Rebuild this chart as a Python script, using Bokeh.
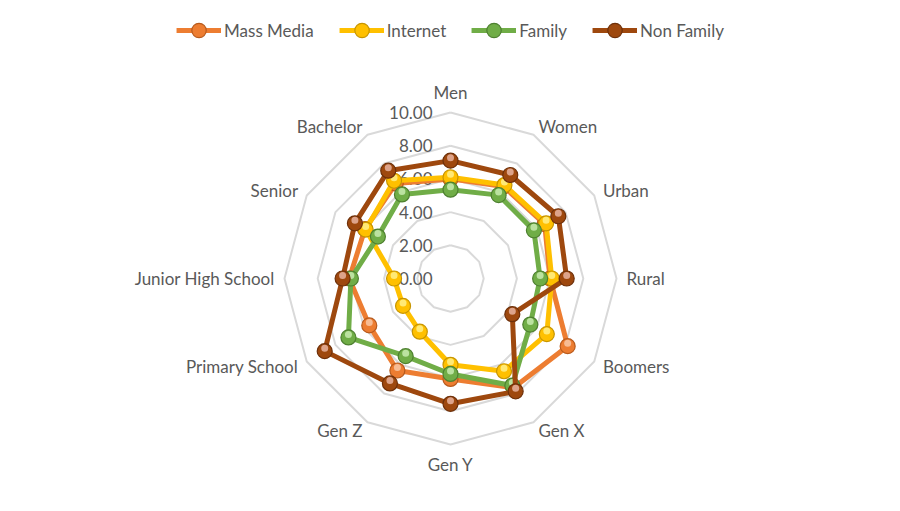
import numpy as np
from bokeh.plotting import figure
from bokeh.models import Legend, LegendItem
from bokeh.embed import file_html
from bokeh.resources import INLINE
from bokeh.core.properties import value

categories = ["Men", "Women", "Urban", "Rural", "Boomers", "Gen X", "Gen Y",
              "Gen Z", "Primary School", "Junior High School", "Senior", "Bachelor"]
mass_media = [6.0, 6.4, 6.55, 6.0, 8.15, 7.6, 6.05, 6.4, 5.65, 6.1, 5.95, 6.6]
internet   = [6.1, 6.5, 6.65, 6.1, 6.7, 6.45, 5.2, 3.7, 3.3, 3.4, 5.9, 6.8]
family     = [5.35, 5.8, 5.8, 5.4, 5.55, 7.45, 5.75, 5.4, 7.1, 6.0, 5.05, 5.85]
non_family = [7.1, 7.2, 7.5, 7.0, 4.3, 7.85, 7.55, 7.3, 8.75, 6.5, 6.65, 7.5]
series_names = ["Mass Media", "Internet", "Family", "Non Family"]
ring_values = [2, 4, 6, 8, 10]
tick_values = [0, 2, 4, 6, 8, 10]
tick_labels = ["0.00", "2.00", "4.00", "6.00", "8.00", "10.00"]

colors = ["#ED7D31", "#FFC000", "#70AD47", "#9E480E"]
dark = ["#B85A1C", "#C79500", "#4E8030", "#6E300A"]
light = ["#F8C7A4", "#FFF08A", "#C8EBB0", "#E8B4A0"]

W, H = 900, 511
cx, cy = 450, 278
ppu = 16.6
p = figure(width=W, height=H,
           x_range=(-cx / ppu, (W - cx) / ppu),
           y_range=(-(H - cy) / ppu, cy / ppu),
           output_backend="svg", toolbar_location=None,
           x_axis_location=None, y_axis_location=None, min_border=0)
p.grid.visible = False
p.outline_line_color = None
p.background_fill_color = "white"

n = len(categories)
theta = np.arange(n) * 2 * np.pi / n
s, c = np.sin(theta), np.cos(theta)

# rings
ring_xs = [list(np.append(r * s, r * s[0])) for r in ring_values]
ring_ys = [list(np.append(r * c, r * c[0])) for r in ring_values]
p.multi_line(ring_xs, ring_ys, line_color="#D9D9D9", line_width=2)

# value tick labels
p.text(x=[0] * len(tick_values), y=tick_values, text=tick_labels, x_offset=-18,
       text_align="right", text_baseline="middle", text_font=value("Lato"),
       text_font_size="17px", text_color="#595959")

# category labels
r_lab = 10.6
aligns = ["center" if abs(v) < 1e-6 else ("left" if v > 0 else "right") for v in s]
baselines = ["bottom" if v > 0.99 else ("top" if v < -0.99 else "middle") for v in c]
for i, cat in enumerate(categories):
    p.text(x=[r_lab * s[i]], y=[r_lab * c[i]], text=[cat], text_align=aligns[i],
           text_baseline=baselines[i], text_font=value("Lato"),
           text_font_size="17px", text_color="#595959")

items = []
hl = 3 / ppu
for k, vals in enumerate([mass_media, internet, family, non_family]):
    v = np.array(vals)
    xs, ys = v * s, v * c
    ln = p.line(np.append(xs, xs[0]), np.append(ys, ys[0]), line_color=colors[k],
                line_width=5, line_join="round")
    mk = p.scatter(xs, ys, size=15, fill_color=colors[k], line_color=dark[k],
                   line_width=1.2)
    p.scatter(xs, ys + hl, size=7, fill_color=light[k], line_color=None, fill_alpha=0.85)
    items.append(LegendItem(label=series_names[k], renderers=[ln, mk]))

legend = Legend(items=items, orientation="horizontal", location="top_center",
                glyph_width=45, glyph_height=36, label_text_font="Lato",
                label_text_font_size="17px", label_text_color="#595959",
                label_standoff=3, spacing=25, padding=0, margin=12,
                border_line_color=None, background_fill_alpha=0)
p.add_layout(legend, "center")

open("out.html", "w").write(file_html(p, INLINE))
